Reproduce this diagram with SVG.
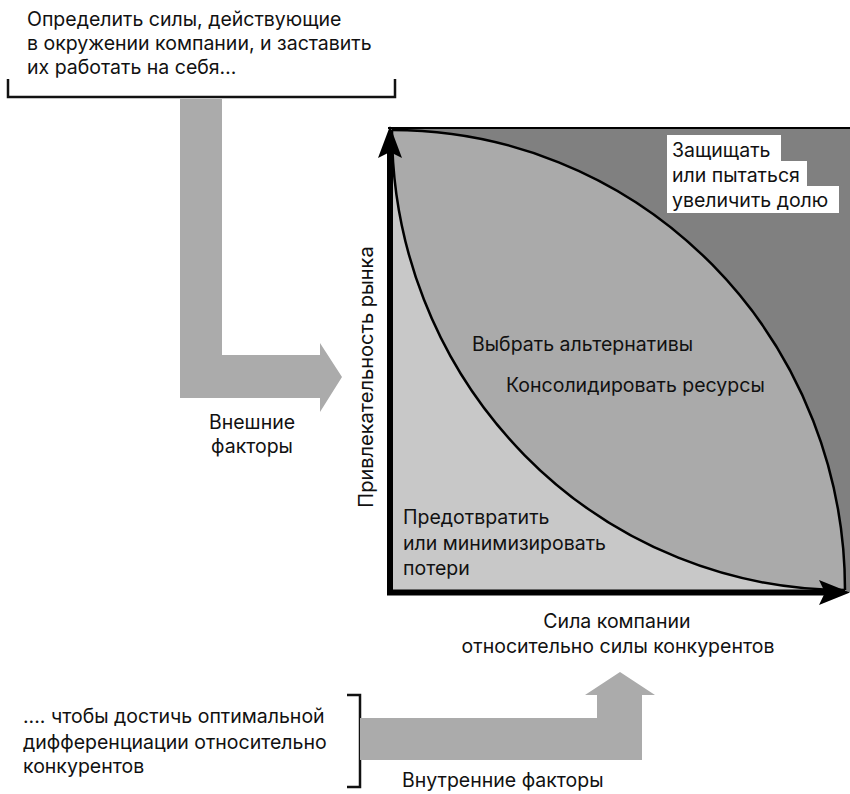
<svg xmlns="http://www.w3.org/2000/svg" width="850" height="794" viewBox="0 0 850 794">
<style>
text{font-family:Inter,"Open Sans","DejaVu Sans",sans-serif;font-size:19.5px;fill:#111}
.br{fill:none;stroke:#111;stroke-width:2.5}
.big{fill:#ababab}
.cv{fill:none;stroke:#000;stroke-width:2.5}
</style>
<rect width="850" height="794" fill="#fff"/>
<g id="chart">
<rect x="390" y="128" width="460" height="464" fill="#808080"/>
<path d="M392,130 A453,460 0 0 1 845,590 A453,460 0 0 1 392,130 Z" fill="#aaaaaa"/>
<path d="M390,130 L392,130 A453,460 0 0 0 845,590 L848,592 L390,592 Z" fill="#c8c8c8"/>
<path class="cv" d="M392,130 A453,460 0 0 1 845,590"/>
<path class="cv" d="M392,130 A453,460 0 0 0 845,590"/>
<line x1="388" y1="128" x2="850" y2="128" stroke="#000" stroke-width="2"/>
<line x1="390" y1="595" x2="390" y2="150" stroke="#000" stroke-width="6"/>
<line x1="387" y1="592.5" x2="825" y2="592.5" stroke="#000" stroke-width="6"/>
<polygon points="390,126 402,158 390,152 378,158" fill="#000"/>
<polygon points="850,592.5 819,605 825,592.5 819,580" fill="#000"/>
</g>
<g id="label-defend">
<rect x="667" y="135" width="114" height="27" fill="#fff"/>
<rect x="667" y="161" width="140" height="26" fill="#fff"/>
<rect x="667" y="186" width="172" height="27" fill="#fff"/>
<text x="672" y="157">Защищать<tspan x="672" dy="25">или пытаться</tspan><tspan x="672" dy="25">увеличить долю</tspan></text>
</g>
<g id="label-middle">
<text x="472" y="351">Выбрать альтернативы</text>
<text x="506" y="392">Консолидировать ресурсы</text>
</g>
<g id="label-prevent">
<text x="403" y="524">Предотвратить<tspan x="403" dy="26">или минимизировать</tspan><tspan x="403" dy="25">потери</tspan></text>
</g>
<g id="axis-y-label">
<text x="0" y="0" transform="translate(373,377) rotate(-90)" text-anchor="middle" style="font-size:20px">Привлекательность рынка</text>
</g>
<g id="axis-x-label">
<text x="617" y="628" text-anchor="middle">Сила компании<tspan x="618" dy="25">относительно силы конкурентов</tspan></text>
</g>
<g id="external">
<path class="br" d="M8,79 V97 H395 V79"/>
<text x="27" y="26">Определить силы, действующие<tspan x="27" dy="24">в окружении компании, и заставить</tspan><tspan x="27" dy="24">их работать на себя…</tspan></text>
</g>
<g id="internal">
<path class="br" d="M347,695 H360 V787 H347"/>
<text x="23" y="723">.... чтобы достичь оптимальной<tspan x="23" dy="26">дифференциации относительно</tspan><tspan x="23" dy="24">конкурентов</tspan></text>
</g>
<g id="connectors">
<polygon class="big" points="180,99 222,99 222,355 320,355 320,343 342,377 320,412 320,398 180,398"/>
<text x="252" y="429" text-anchor="middle">Внешние<tspan x="252" dy="24">факторы</tspan></text>
<polygon class="big" points="360,718 597,718 597,695 585,695 620,672 655,695 642,695 642,760 360,760"/>
<text x="402" y="787">Внутренние факторы</text>
</g>
</svg>
